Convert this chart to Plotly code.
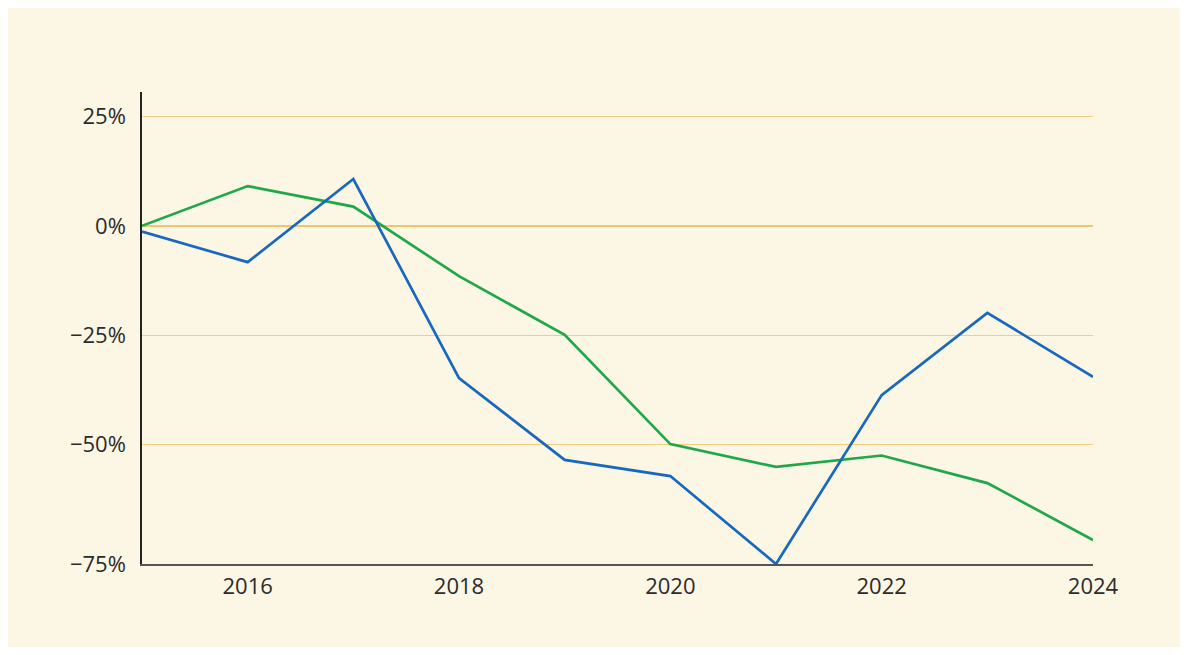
import plotly.graph_objects as go

years = [2015, 2016, 2017, 2018, 2019, 2020, 2021, 2022, 2023, 2024]
blue_vals = [-1.3, -8.3, 10.7, -34.8, -53.5, -57.2, -77.3, -38.7, -19.9, -34.5]
green_vals = [0.0, 9.1, 4.4, -11.5, -24.9, -49.9, -55.1, -52.5, -58.8, -71.8]

x_ticks = [2016, 2018, 2020, 2022, 2024]
y_ticks = [25, 0, -25, -50, -77.3]
y_tick_text = ["25%", "0%", "\u221225%", "\u221250%", "\u221275%"]

y_min, y_max = -77.3, 30.6

fig = go.Figure()
fig.add_trace(go.Scatter(x=years, y=green_vals, mode="lines",
                         line=dict(color="#1FA84A", width=2.7), showlegend=False))
fig.add_trace(go.Scatter(x=years, y=blue_vals, mode="lines",
                         line=dict(color="#1768BE", width=2.7), showlegend=False))

fig.update_layout(
    width=1172, height=639,
    margin=dict(l=134, r=87, t=84, b=83),
    paper_bgcolor="#FCF6E5",
    plot_bgcolor="#FCF6E5",
    font=dict(family="Open Sans, sans-serif", size=22, color="#2B2B2B"),
    xaxis=dict(range=[2015, 2024], tickvals=x_ticks, showgrid=False, zeroline=False,
               showline=True, linecolor="#555555", linewidth=1.5, ticks="",
               ticklabelstandoff=2),
    yaxis=dict(range=[y_min, y_max], tickvals=y_ticks, ticktext=y_tick_text,
               showgrid=True, gridcolor="#F3CD85", gridwidth=1,
               zeroline=True, zerolinecolor="#F2C46E", zerolinewidth=2,
               showline=True, linecolor="#222222", linewidth=1.5, ticks="",
               ticklabelstandoff=10),
)

fig.write_html("out.html")
